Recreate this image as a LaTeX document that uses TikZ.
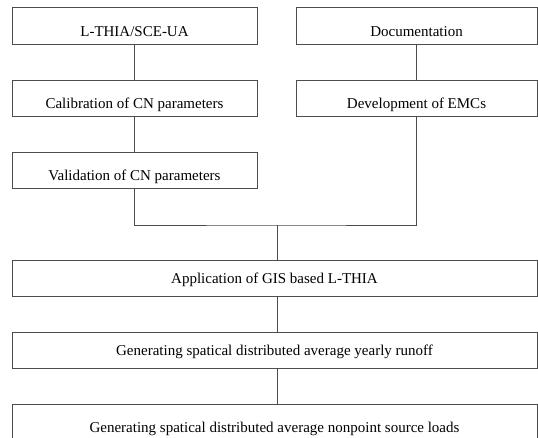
\documentclass[tikz,border=0pt]{standalone}
\usepackage{fontspec}
\setmainfont{Liberation Serif}
\usetikzlibrary{positioning}

\begin{document}
\begin{tikzpicture}[
  x=1pt, y=-1pt,
  box/.style={draw=black!70, line width=0.9pt, minimum height=36.5pt, inner sep=0pt,
    text depth=0pt, text height=10pt, font=\fontsize{15}{18}\selectfont},
  halfbox/.style={box, minimum width=245pt, text height=21pt},
  sidebox/.style={box, minimum width=241pt, text height=21pt},
  widebox/.style={box, minimum width=525pt},
  link/.style={draw=black!70, line width=0.9pt},
]
\clip (0,0) rectangle (538,438);

% Nodes
\node[halfbox] (lthia) at (134.5,26) {L-THIA/SCE-UA};
\node[sidebox] (doc) at (416.5,26) {Documentation};
\node[halfbox] (calib) at (134.5,98.5) {Calibration of CN parameters};
\node[sidebox] (dev) at (416.5,98.5) {Development of EMCs};
\node[halfbox] (valid) at (134.5,170.5) {Validation of CN parameters};
\node[widebox] (app) at (274.5,278.5) {Application of GIS based L-THIA};
\node[widebox] (runoff) at (274.5,350.5) {Generating spatical distributed average yearly runoff};
\node[widebox, text height=20pt] (loads) at (274.5,422.5) {Generating spatical distributed average nonpoint source loads};
\coordinate (join) at (277,225);

% Lines
\draw[link] (lthia) -- (calib);
\draw[link] (doc) -- (dev);
\draw[link] (calib) -- (valid);
\draw[link] (valid.south) |- (join) -| (dev.south);
\draw[link] (join) -- (join |- app.north);
\draw[link] (app.south -| join) -- (join |- runoff.north);
\draw[link] (runoff.south -| join) -- (join |- loads.north);

\end{tikzpicture}
\end{document}
